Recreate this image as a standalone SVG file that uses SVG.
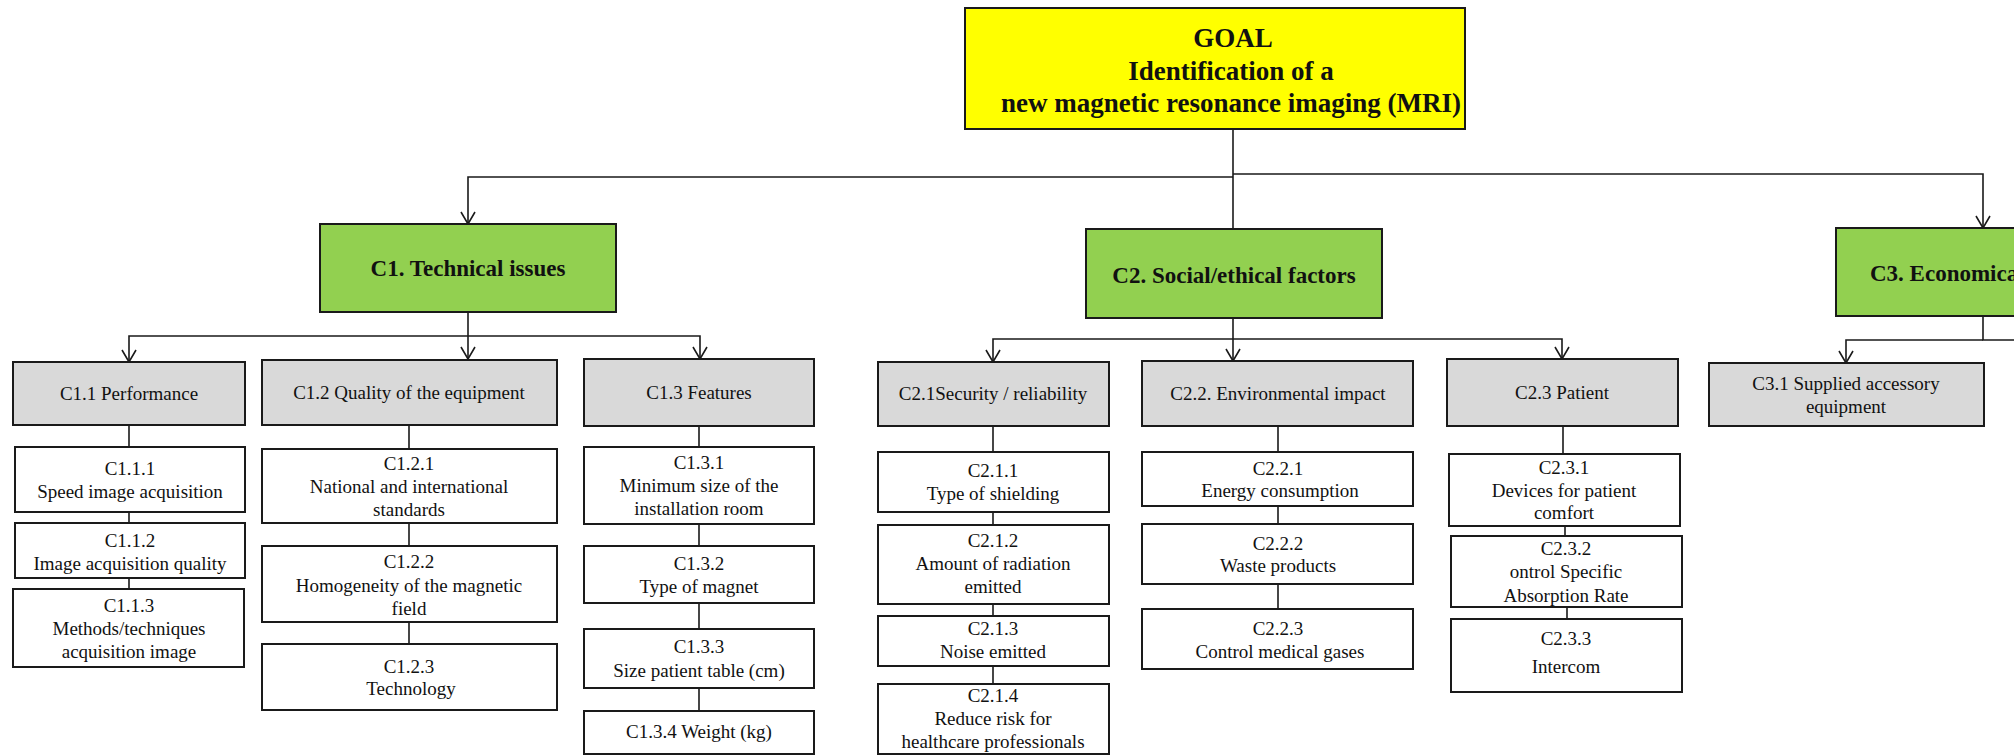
<svg xmlns="http://www.w3.org/2000/svg" width="2014" height="755" viewBox="0 0 2014 755">
<defs>
<style>
.box{stroke:#1a1a1a;stroke-width:2}
.goal{fill:#FFFF00}
.crit{fill:#92D050}
.sub{fill:#D9D9D9}
.leaf{fill:#FFFFFF}
.t{font-family:"Liberation Serif","Times New Roman",serif;font-size:19px;text-anchor:middle;fill:#111}
.tb{font-weight:bold;font-size:23px}
.tg{font-weight:bold;font-size:27px}
.conn{stroke:#1a1a1a;stroke-width:1.6;fill:none}
</style>
<marker id="arr" markerUnits="userSpaceOnUse" markerWidth="14" markerHeight="16" viewBox="0 0 14 16" refX="13" refY="8" orient="auto">
<path d="M1,1 L13,8 L1,15" fill="none" stroke="#1a1a1a" stroke-width="1.6"/>
</marker>
</defs>
<rect width="2014" height="755" fill="#FFFFFF"/>

<g id="connectors">
<path class="conn" d="M1233,129 V229"/>
<path class="conn" d="M1233,177 H468 V224" marker-end="url(#arr)"/>
<path class="conn" d="M1233,174 H1983 V228" marker-end="url(#arr)"/>
<path class="conn" d="M468,312 V359" marker-end="url(#arr)"/>
<path class="conn" d="M468,336 H129 V362" marker-end="url(#arr)"/>
<path class="conn" d="M468,336 H700 V359" marker-end="url(#arr)"/>
<path class="conn" d="M1233,318 V361" marker-end="url(#arr)"/>
<path class="conn" d="M1233,339 H993 V362" marker-end="url(#arr)"/>
<path class="conn" d="M1233,339 H1562 V359" marker-end="url(#arr)"/>
<path class="conn" d="M1983,316 V340 H2014"/>
<path class="conn" d="M1983,340 H1846 V363" marker-end="url(#arr)"/>
<path class="conn" d="M129,425 V447 M129,512 V523 M129,578 V589"/>
<path class="conn" d="M409,425 V449 M409,523 V546 M409,622 V644"/>
<path class="conn" d="M699,426 V447 M699,524 V546 M699,603 V629 M699,688 V711"/>
<path class="conn" d="M993,426 V452 M993,512 V525 M993,604 V616 M993,666 V684"/>
<path class="conn" d="M1278,426 V452 M1278,506 V524 M1278,584 V609"/>
<path class="conn" d="M1563,426 V454 M1565,526 V536 M1567,607 V619"/>
</g>

<g id="goal">
<rect class="box goal" x="965" y="8" width="500" height="121"/>
<text class="t tg" x="1233" y="47">GOAL</text>
<text class="t tg" x="1231" y="80">Identification of a</text>
<text class="t tg" x="1231" y="112">new magnetic resonance imaging (MRI)</text>
</g>

<g id="C1">
<rect class="box crit" x="320" y="224" width="296" height="88"/>
<text class="t tb" x="468" y="276">C1. Technical issues</text>
</g>
<g id="C2">
<rect class="box crit" x="1086" y="229" width="296" height="89"/>
<text class="t tb" x="1234" y="283">C2. Social/ethical factors</text>
</g>
<g id="C3">
<rect class="box crit" x="1836" y="228" width="200" height="88"/>
<text class="t tb" x="1870" y="281" style="text-anchor:start">C3. Economica</text>
</g>

<g id="C1.1">
<rect class="box sub" x="13" y="362" width="232" height="63"/>
<text class="t" x="129" y="400">C1.1 Performance</text>
</g>
<g id="C1.2">
<rect class="box sub" x="262" y="360" width="295" height="65"/>
<text class="t" x="409" y="399">C1.2 Quality of the equipment</text>
</g>
<g id="C1.3">
<rect class="box sub" x="584" y="359" width="230" height="67"/>
<text class="t" x="699" y="399">C1.3 Features</text>
</g>
<g id="C2.1">
<rect class="box sub" x="878" y="362" width="231" height="64"/>
<text class="t" x="993" y="400">C2.1Security / reliability</text>
</g>
<g id="C2.2">
<rect class="box sub" x="1142" y="361" width="271" height="65"/>
<text class="t" x="1278" y="400">C2.2. Environmental impact</text>
</g>
<g id="C2.3">
<rect class="box sub" x="1447" y="359" width="231" height="67"/>
<text class="t" x="1562" y="399">C2.3 Patient</text>
</g>
<g id="C3.1">
<rect class="box sub" x="1709" y="363" width="275" height="63"/>
<text class="t" x="1846" y="390">C3.1 Supplied accessory</text>
<text class="t" x="1846" y="413">equipment</text>
</g>

<g id="C1.1.1">
<rect class="box leaf" x="15" y="447" width="230" height="65"/>
<text class="t" x="130" y="475">C1.1.1</text>
<text class="t" x="130" y="498">Speed image acquisition</text>
</g>
<g id="C1.1.2">
<rect class="box leaf" x="15" y="523" width="230" height="55"/>
<text class="t" x="130" y="547">C1.1.2</text>
<text class="t" x="130" y="570">Image acquisition quality</text>
</g>
<g id="C1.1.3">
<rect class="box leaf" x="13" y="589" width="231" height="78"/>
<text class="t" x="129" y="612">C1.1.3</text>
<text class="t" x="129" y="635">Methods/techniques</text>
<text class="t" x="129" y="658">acquisition image</text>
</g>
<g id="C1.2.1">
<rect class="box leaf" x="262" y="449" width="295" height="74"/>
<text class="t" x="409" y="470">C1.2.1</text>
<text class="t" x="409" y="493">National and international</text>
<text class="t" x="409" y="516">standards</text>
</g>
<g id="C1.2.2">
<rect class="box leaf" x="262" y="546" width="295" height="76"/>
<text class="t" x="409" y="568">C1.2.2</text>
<text class="t" x="409" y="592">Homogeneity of the magnetic</text>
<text class="t" x="409" y="615">field</text>
</g>
<g id="C1.2.3">
<rect class="box leaf" x="262" y="644" width="295" height="66"/>
<text class="t" x="409" y="673">C1.2.3</text>
<text class="t" x="411" y="695">Technology</text>
</g>
<g id="C1.3.1">
<rect class="box leaf" x="584" y="447" width="230" height="77"/>
<text class="t" x="699" y="469">C1.3.1</text>
<text class="t" x="699" y="492">Minimum size of the</text>
<text class="t" x="699" y="515">installation room</text>
</g>
<g id="C1.3.2">
<rect class="box leaf" x="584" y="546" width="230" height="57"/>
<text class="t" x="699" y="570">C1.3.2</text>
<text class="t" x="699" y="593">Type of magnet</text>
</g>
<g id="C1.3.3">
<rect class="box leaf" x="584" y="629" width="230" height="59"/>
<text class="t" x="699" y="653">C1.3.3</text>
<text class="t" x="699" y="677">Size patient table (cm)</text>
</g>
<g id="C1.3.4">
<rect class="box leaf" x="584" y="711" width="230" height="43"/>
<text class="t" x="699" y="738">C1.3.4 Weight (kg)</text>
</g>
<g id="C2.1.1">
<rect class="box leaf" x="878" y="452" width="231" height="60"/>
<text class="t" x="993" y="477">C2.1.1</text>
<text class="t" x="993" y="500">Type of shielding</text>
</g>
<g id="C2.1.2">
<rect class="box leaf" x="878" y="525" width="231" height="79"/>
<text class="t" x="993" y="547">C2.1.2</text>
<text class="t" x="993" y="570">Amount of radiation</text>
<text class="t" x="993" y="593">emitted</text>
</g>
<g id="C2.1.3">
<rect class="box leaf" x="878" y="616" width="231" height="50"/>
<text class="t" x="993" y="635">C2.1.3</text>
<text class="t" x="993" y="658">Noise emitted</text>
</g>
<g id="C2.1.4">
<rect class="box leaf" x="878" y="684" width="231" height="70"/>
<text class="t" x="993" y="702">C2.1.4</text>
<text class="t" x="993" y="725">Reduce risk for</text>
<text class="t" x="993" y="748">healthcare professionals</text>
</g>
<g id="C2.2.1">
<rect class="box leaf" x="1142" y="452" width="271" height="54"/>
<text class="t" x="1278" y="475">C2.2.1</text>
<text class="t" x="1280" y="497">Energy consumption</text>
</g>
<g id="C2.2.2">
<rect class="box leaf" x="1142" y="524" width="271" height="60"/>
<text class="t" x="1278" y="550">C2.2.2</text>
<text class="t" x="1278" y="572">Waste products</text>
</g>
<g id="C2.2.3">
<rect class="box leaf" x="1142" y="609" width="271" height="60"/>
<text class="t" x="1278" y="635">C2.2.3</text>
<text class="t" x="1280" y="658">Control medical gases</text>
</g>
<g id="C2.3.1">
<rect class="box leaf" x="1449" y="454" width="231" height="72"/>
<text class="t" x="1564" y="474">C2.3.1</text>
<text class="t" x="1564" y="497">Devices for patient</text>
<text class="t" x="1564" y="519">comfort</text>
</g>
<g id="C2.3.2">
<rect class="box leaf" x="1451" y="536" width="231" height="71"/>
<text class="t" x="1566" y="555">C2.3.2</text>
<text class="t" x="1566" y="578">ontrol Specific</text>
<text class="t" x="1566" y="602">Absorption Rate</text>
</g>
<g id="C2.3.3">
<rect class="box leaf" x="1451" y="619" width="231" height="73"/>
<text class="t" x="1566" y="645">C2.3.3</text>
<text class="t" x="1566" y="673">Intercom</text>
</g>
</svg>
